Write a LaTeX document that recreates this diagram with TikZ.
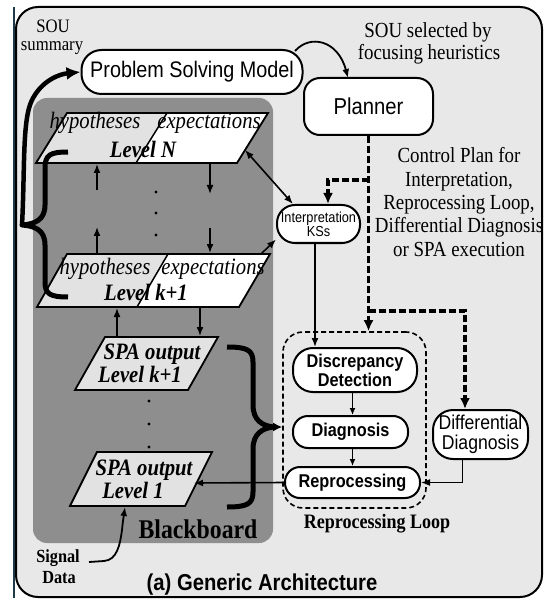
\documentclass[tikz,border=0pt]{standalone}
\usepackage{fontspec}
\setmainfont{Liberation Serif}[FakeStretch=0.88]
\setsansfont{Liberation Sans}[FakeStretch=0.88]
\usetikzlibrary{arrows.meta}
\definecolor{outerfill}{HTML}{E8E8E8}
\definecolor{bbfill}{HTML}{8E8E8E}
\definecolor{lgfill}{HTML}{E2E2E2}
\definecolor{edgeline}{HTML}{1E3A46}
\newcommand{\myfs}[2]{\fontsize{#1}{#2}\selectfont}
\tikzset{
  box/.style={draw=black, line width=2pt, fill=white, align=center, inner sep=0pt},
  txt/.style={inner sep=0pt, anchor=base},
  serifT/.style={txt, font=\myfs{21.5}{23}},
  itT/.style={txt, font=\itshape\myfs{23.5}{24}},
  bitT/.style={txt, font=\bfseries\itshape\myfs{23.5}{24}},
  arr/.style={line width=1.6pt, -{Latex[length=9pt,width=7pt]}},
  twoarr/.style={line width=1.6pt, {Latex[length=9pt,width=7pt]}-{Latex[length=9pt,width=7pt]}},
  tarr/.style={line width=1.3pt, -{Latex[length=7pt,width=6pt]}},
  dotarr/.style={line width=3.5pt, dash pattern=on 7pt off 3pt, -{Latex[length=11pt,width=10pt]}},
  bigarr/.style={line width=4.5pt, line join=round, -{Latex[length=14pt,width=13pt]}},
  bracepath/.style={line width=5pt, line join=round},
  para/.style={line width=1.8pt},
  dotpt/.style={fill=black},
}
\begin{document}
\begin{tikzpicture}[x=1pt,y=-1pt]
\useasboundingbox (0,0) rectangle (545,601);
\fill[white] (0,0) rectangle (545,601);
\draw[edgeline, line width=2pt] (13.5,7) -- (13.5,598);
\draw[line width=2pt, fill=outerfill, rounded corners=22pt] (16,7) rectangle (542,597);
% blackboard
\fill[bbfill, rounded corners=14pt] (33,98) rectangle (273,543);
\node[txt, font=\bfseries\myfs{27}{28}] (bbtxt) at (198,538) {Blackboard};

% top texts
\node[txt, font=\myfs{19}{20}] (sou1) at (53,33) {SOU};
\node[txt, font=\myfs{19}{20}] (sou2) at (52,51) {summary};
\node[serifT] (sel1) at (428,38) {SOU selected by};
\node[serifT] (sel2) at (429,60) {focusing heuristics};
\node[serifT] (cp1) at (459,163) {Control Plan for};
\node[serifT] (cp2) at (459,187) {Interpretation,};
\node[serifT] (cp3) at (459,210) {Reprocessing Loop,};
\node[serifT] (cp4) at (459,233) {Differential Diagnosis};
\node[serifT] (cp5) at (459,256) {or SPA execution};

% boxes
\node[box, minimum width=221pt, minimum height=44pt, rounded corners=20pt, font=\sffamily\myfs{22.5}{24}] (psm) at (192,72) {Problem Solving Model};
\node[box, minimum width=129pt, minimum height=57pt, rounded corners=16pt, font=\sffamily\myfs{23}{24}] (planner) at (368.5,106.5) {Planner};
\node[box, minimum width=83pt, minimum height=38pt, rounded corners=18pt, font=\sffamily\myfs{14.5}{14}] (interp) at (318.5,224) {Interpretation\\KSs};

\node[draw=black, line width=1.6pt, dash pattern=on 5pt off 3pt, minimum width=143pt, minimum height=176pt, rounded corners=20pt] (loop) at (354.5,420) {};
\node[txt, font=\bfseries\myfs{20.5}{22}] (looptxt) at (377,528) {Reprocessing Loop};

\node[box, minimum width=124pt, minimum height=44pt, rounded corners=20pt, font=\sffamily\bfseries\myfs{18.5}{19}] (dd) at (355,370) {Discrepancy\\Detection};
\node[box, minimum width=115pt, minimum height=32pt, rounded corners=15pt, font=\sffamily\bfseries\myfs{18.5}{19}] (diag) at (350.5,432) {Diagnosis};
\node[box, minimum width=135pt, minimum height=31pt, rounded corners=15pt, font=\sffamily\bfseries\myfs{18.5}{19}] (repro) at (352.5,482.5) {Reprocessing};
\node[box, minimum width=95pt, minimum height=49pt, rounded corners=20pt, font=\sffamily\myfs{20}{20}] (diff) at (480.5,434.5) {Differential\\Diagnosis};

% Level N
\fill[lgfill] (36,163) -- (67,113) -- (167,113) -- (136,163) -- cycle;
\fill[white] (167,113) -- (268,113) -- (237,163) -- (136,163) -- cycle;
\draw[line width=1.5pt] (167,113) -- (136,163);
\draw[para] (36,163) -- (67,113) -- (268,113) -- (237,163) -- cycle;
\node[itT] (lnh) at (95,129) {hypotheses};
\node[itT] (lne) at (209,129) {expectations};
\node[bitT] (lnl) at (143,158) {Level N};

% Level k+1
\fill[lgfill] (37,307) -- (67,254) -- (168,254) -- (137,307) -- cycle;
\fill[white] (168,254) -- (270,254) -- (239,307) -- (137,307) -- cycle;
\draw[line width=1.5pt] (168,254) -- (137,307);
\draw[para] (37,307) -- (67,254) -- (270,254) -- (239,307) -- cycle;
\node[itT] (lkh) at (105,274) {hypotheses};
\node[itT] (lke) at (213,274) {expectations};
\node[bitT] (lkl) at (146,300) {Level \textit{k}+1};

% SPA k+1
\filldraw[fill=lgfill, para] (75,390) -- (105,337) -- (218,337) -- (188,390) -- cycle;
\node[bitT] (skt1) at (152,359) {SPA output};
\node[bitT] (skt2) at (140,382) {Level \textit{k}+1};

% SPA 1
\filldraw[fill=lgfill, para] (70,506) -- (97,452) -- (212,452) -- (185,506) -- cycle;
\node[bitT] (s1t1) at (144,475) {SPA output};
\node[bitT] (s1t2) at (133,498) {Level 1};

% dots
\fill[dotpt] (156,192) circle (1.6pt);
\fill[dotpt] (156,213) circle (1.6pt);
\fill[dotpt] (156,235) circle (1.6pt);
\fill[dotpt] (149,401) circle (1.6pt);
\fill[dotpt] (149,424) circle (1.6pt);
\fill[dotpt] (149,447) circle (1.6pt);

% coordinates on parallelograms
\coordinate (lnB1) at (97,164);
\coordinate (lnU1) at (97,190);
\coordinate (lkU1s) at (97,253);
\coordinate (lkU1e) at (97,227);
\coordinate (lnD1) at (210,164);
\coordinate (lnD1e) at (210,194);
\coordinate (lkD1s) at (210,228);
\coordinate (lkT) at (210,253);
\coordinate (skTop1) at (117,336);
\coordinate (lkBot1) at (117,308);
\coordinate (lkBot2) at (200,308);
\coordinate (skTop2) at (200,336);
\coordinate (lnR) at (245,150);
\coordinate (lkR) at (261,254);
\coordinate (s1R) at (194,483);
\coordinate (s1B) at (125,507);
\coordinate (sigS) at (89,562);

\draw[arr] (lnU1) -- (lnB1);
\draw[arr] (lkU1s) -- (lkU1e);
\draw[arr] (lnD1) -- (lnD1e);
\draw[arr] (lkD1s) -- (lkT);
\draw[arr] (skTop1) -- (lkBot1);
\draw[arr] (lkBot2) -- (skTop2);

% connectors to interpretation
\draw[twoarr] (lnR) -- (interp.142);
\draw[arr] (lkR) -- (interp.200);
\draw[arr] ([xshift=-3.5pt]interp.south) -- ([xshift=-3.5pt]interp.south |- dd.north);

% PSM -> planner
\coordinate (psmtr) at (295,51);
\coordinate (plt) at (348,78);
\draw[line width=1.8pt, -{Latex[length=9pt,width=7pt]}] (psmtr) .. controls (310,34) and (338,40) .. (plt);

% dotted control lines
\coordinate (br1) at (368.5,180);
\coordinate (br2) at (368.5,311);
\draw[dotarr] (planner.south) -- (planner.south |- loop.north);
\draw[dotarr] (br1) -| ([xshift=9.5pt]interp.north);
\draw[dotarr] (br2) -| ([xshift=-15.5pt]diff.north);

% reprocessing loop arrows
\draw[tarr] (dd.south -| repro.center) -- (diag.north -| repro.center);
\draw[tarr] (diag.south -| repro.center) -- (repro.north);
\draw[arr] ([xshift=-18pt]diff.south) |- (repro.east);
\draw[arr] (repro.west) -- (s1R);

% signal data
\node[txt, font=\bfseries\myfs{18.5}{19}] (sig1) at (58,562) {Signal};
\node[txt, font=\bfseries\myfs{18.5}{19}] (sig2) at (59,583) {Data};
\draw[line width=1.8pt, -{Latex[length=9pt,width=7pt]}] (sigS) -- (104,561) .. controls (117,560) and (120,545) .. (122,530) .. controls (123,520) and (124,514) .. (s1B);

% right brace
\draw[bracepath] (227,347) .. controls (247,347) and (253,350) .. (253,362) -- (253,405) .. controls (253,420) and (262,426) .. (274,427) .. controls (262,428) and (253,434) .. (253,449) -- (253,492) .. controls (253,504) and (247,507) .. (227,507);
\coordinate (rbt) at (272,427);
\draw[line width=3pt, -{Latex[length=9pt,width=9pt]}] (rbt) -- (rbt -| loop.west);

% left brace
\draw[bracepath] (68,152) .. controls (50,152) and (45,155) .. (45,168) -- (45,205) .. controls (45,220) and (35,224) .. (22,225) .. controls (35,226) and (45,230) .. (45,245) -- (45,282) .. controls (45,294) and (50,297) .. (68,297);
\coordinate (lbt) at (22,225);
\draw[bigarr] (lbt) .. controls (25,170) and (22,120) .. (32,100) .. controls (42,80) and (60,74) .. (psm.west);

% caption
\node[txt, font=\sffamily\bfseries\myfs{23}{24}] (cap) at (262,590) {(a) Generic Architecture};
\end{tikzpicture}
\end{document}
